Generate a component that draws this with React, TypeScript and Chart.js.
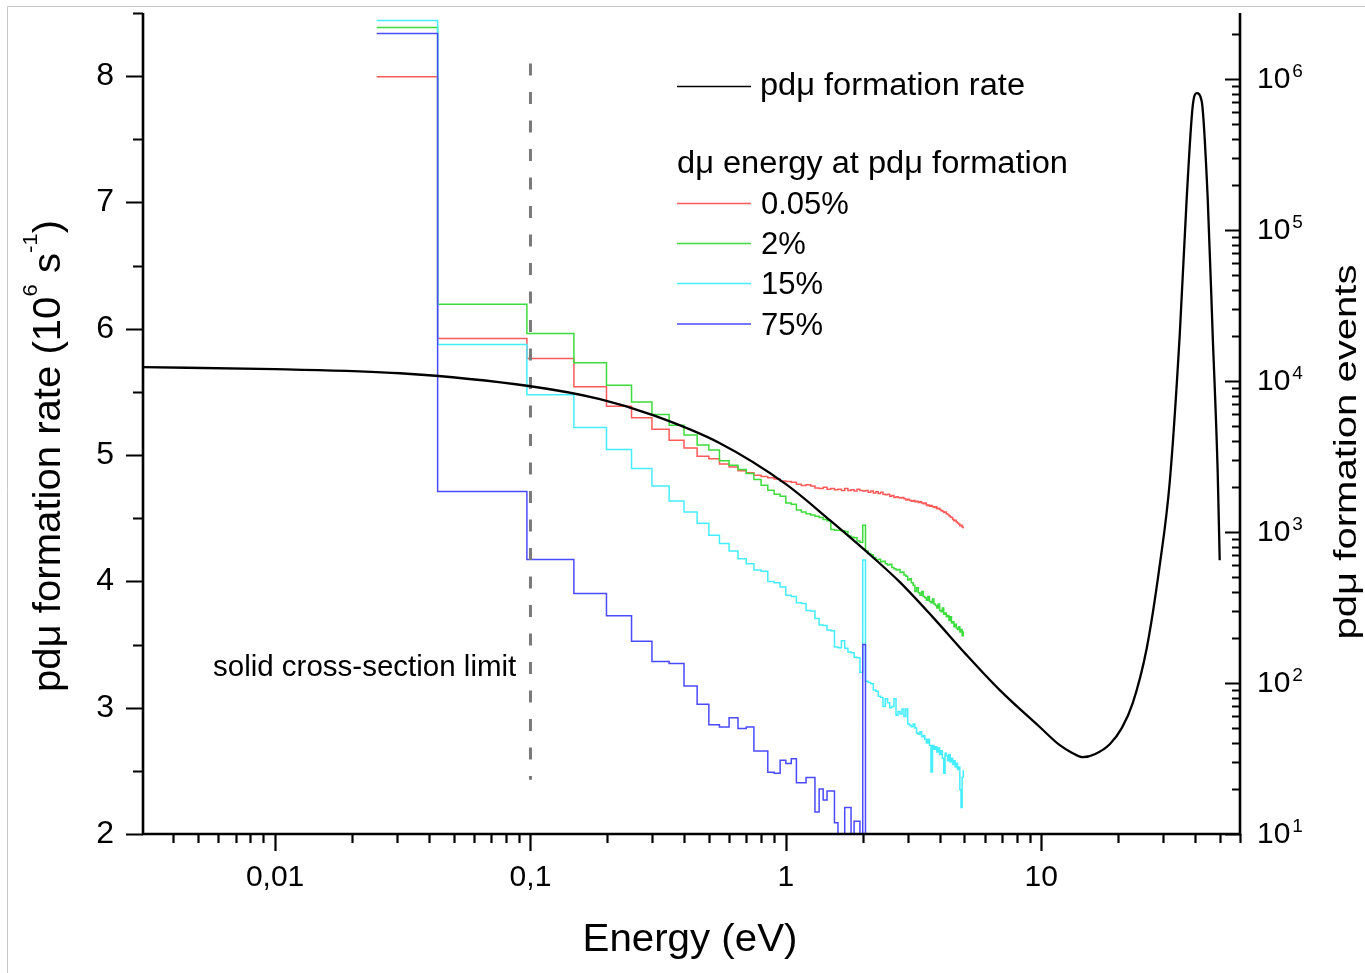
import React, { useEffect, useRef } from 'react';
import { Chart, registerables } from 'chart.js';

Chart.register(...registerables);

const FONT = '"Liberation Sans", Arial, Helvetica, sans-serif';

// Histogram bin centres (eV), 0.05 eV bins
const BIN_E = [
  0.025, 0.075, 0.125, 0.175, 0.225, 0.275, 0.325, 0.375, 0.425, 0.475,
  0.525, 0.575, 0.625, 0.675, 0.725, 0.775, 0.825, 0.875, 0.925, 0.975,
  1.025, 1.075, 1.125, 1.175, 1.225, 1.275, 1.325, 1.375, 1.425, 1.475,
  1.525, 1.575, 1.625, 1.675, 1.725, 1.775, 1.825, 1.875, 1.925, 1.975,
  2.025, 2.075, 2.125, 2.175, 2.225, 2.275, 2.325, 2.375, 2.425, 2.475,
  2.525, 2.575, 2.625, 2.675, 2.725, 2.775, 2.825, 2.875, 2.925, 2.975,
  3.025, 3.075, 3.125, 3.175, 3.225, 3.275, 3.325, 3.375, 3.425, 3.475,
  3.525, 3.575, 3.625, 3.675, 3.725, 3.775, 3.825, 3.875, 3.925, 3.975,
  4.025, 4.075, 4.125, 4.175, 4.225, 4.275, 4.325, 4.375, 4.425, 4.475,
  4.525, 4.575, 4.625, 4.675, 4.725, 4.775, 4.825, 4.875, 4.925, 4.975,
];

const RED_005 = [
  7.995, 5.923, 5.765, 5.54, 5.387, 5.295, 5.205, 5.118, 5.057, 4.99,
  4.97, 4.93, 4.906, 4.875, 4.86, 4.84, 4.83, 4.82, 4.81, 4.795,
  4.79, 4.785, 4.77, 4.76, 4.765, 4.755, 4.74, 4.735, 4.745, 4.73,
  4.735, 4.725, 4.73, 4.72, 4.735, 4.72, 4.725, 4.715, 4.73, 4.72,
  4.715, 4.72, 4.705, 4.715, 4.70, 4.71, 4.695, 4.705, 4.69, 4.685,
  4.69, 4.675, 4.68, 4.665, 4.67, 4.665, 4.66, 4.665, 4.655, 4.645,
  4.65, 4.64, 4.635, 4.64, 4.63, 4.635, 4.625, 4.63, 4.62, 4.615,
  4.62, 4.6, 4.605, 4.595, 4.6, 4.59, 4.585, 4.59, 4.575, 4.58,
  4.57, 4.56, 4.555, 4.545, 4.55, 4.535, 4.53, 4.52, 4.51, 4.505,
  4.49, 4.48, 4.485, 4.47, 4.46, 4.455, 4.44, 4.445, 4.43, 4.425,
];

const GREEN_2 = [
  8.386, 6.195, 5.963, 5.73, 5.553, 5.421, 5.321, 5.237, 5.158, 5.08,
  5.04, 4.955, 4.92, 4.886, 4.855, 4.807, 4.762, 4.722, 4.69, 4.675,
  4.62, 4.61, 4.565, 4.55, 4.535, 4.525, 4.515, 4.505, 4.49, 4.48,
  4.41, 4.405, 4.405, 4.40, 4.395, 4.36, 4.35, 4.345, 4.32, 4.31,
  4.445, 4.24, 4.22, 4.21, 4.19, 4.17, 4.175, 4.155, 4.16, 4.14,
  4.13, 4.135, 4.11, 4.10, 4.09, 4.095, 4.07, 4.075, 4.05, 4.04,
  4.01, 4.02, 3.99, 3.97, 3.92, 3.95, 3.91, 3.89, 3.92, 3.88,
  3.87, 3.85, 3.88, 3.84, 3.83, 3.86, 3.82, 3.81, 3.79, 3.82,
  3.77, 3.76, 3.79, 3.74, 3.75, 3.72, 3.73, 3.69, 3.72, 3.67,
  3.68, 3.64, 3.66, 3.63, 3.62, 3.64, 3.60, 3.62, 3.57, 3.60,
];

const CYAN_15 = [
  8.44, 5.876, 5.477, 5.218, 5.044, 4.893, 4.756, 4.637, 4.55, 4.46,
  4.366, 4.30, 4.24, 4.18, 4.14, 4.09, 4.08, 4.0, 3.99, 3.956,
  3.89, 3.88, 3.83, 3.825, 3.77, 3.765, 3.706, 3.655, 3.65, 3.615,
  3.61, 3.48, 3.475, 3.53, 3.47, 3.44, 3.435, 3.40, 3.395, 3.28,
  4.17, 3.21, 3.20, 3.19, 3.14, 3.13, 3.09, 3.08, 3.01, 3.07,
  3.04, 3.0, 3.01, 3.07, 2.94, 2.97, 2.95, 2.99, 2.93, 2.99,
  2.87, 2.86, 2.85, 2.87, 2.84, 2.80, 2.79, 2.81, 2.77, 2.78,
  2.75, 2.72, 2.75, 2.70, 2.49, 2.70, 2.67, 2.69, 2.65, 2.68,
  2.63, 2.66, 2.60, 2.48, 2.64, 2.62, 2.58, 2.63, 2.57, 2.60,
  2.55, 2.58, 2.53, 2.56, 2.51, 2.53, 2.35, 2.21, 2.45, 2.50,
];

const BLUE_75 = [
  8.338, 4.712, 4.173, 3.905, 3.727, 3.527, 3.366, 3.35, 3.172, 3.028,
  2.864, 2.848, 2.92, 2.835, 2.848, 2.658, 2.658, 2.489, 2.48, 2.584,
  2.558, 2.595, 2.405, 2.405, 2.447, 2.447, 2.175, 2.357, 2.27, 2.34,
  2.34, 2.09, 1.9, 1.9, 2.21, 2.21, 1.9, 2.1, 2.1, 1.9,
  3.5, 1.9,
];

// pdmu formation rate curve
const RATE_E = [
  0.00304, 0.01, 0.03085, 0.1, 0.1871, 0.3016, 0.5517, 1.0, 1.486, 2.07,
  2.795, 3.761, 5.064, 6.88, 9.866, 11.82, 13.17, 14.54, 16.2, 18.54,
  20.66, 22.81, 25.88, 29.1, 31.84, 34.84, 37.11, 39.17, 40.61, 42.48,
  44.84, 46.91, 49.08, 49.96,
];
const RATE_V = [
  5.696, 5.68, 5.648, 5.545, 5.443, 5.316, 5.094, 4.77, 4.485, 4.235,
  3.994, 3.717, 3.424, 3.139, 2.847, 2.703, 2.644, 2.608, 2.632, 2.711,
  2.838, 3.036, 3.471, 4.128, 4.785, 5.949, 7.034, 7.762, 7.865, 7.802,
  7.034, 5.949, 4.857, 4.168,
];

// solid cross-section limit marker
const LIMIT_E = [0.1, 0.1];
const LIMIT_V = [8.1, 2.43];

const LEFT_TICKS = [2, 2.5, 3, 3.5, 4, 4.5, 5, 5.5, 6, 6.5, 7, 7.5, 8, 8.5];
const X_DECADES = [-3, -2, -1, 0, 1];
const X_MAJOR_LABELS = ['0,01', '0,1', '1', '10'];
const RIGHT_DECADES = [1, 2, 3, 4, 5, 6];

const SERIES_NAMES = ['0.05%', '2%', '15%', '75%'];
const SERIES_COLORS = ['#ff5a5a', '#3ddc3d', '#44eeff', '#4a4aff'];

const pts = (xs: number[], ys: number[]) => ys.map((y, i) => ({ x: xs[i], y }));

type Seg = { text: string; size: number; raise?: number };

function segsWidth(ctx: CanvasRenderingContext2D, segs: Seg[]) {
  let w = 0;
  for (const s of segs) {
    ctx.font = `${s.size}px ${FONT}`;
    w += ctx.measureText(s.text).width;
  }
  return w;
}

function drawSegs(
  ctx: CanvasRenderingContext2D,
  segs: Seg[],
  ox: number,
  oy: number,
  opts: { rotate?: boolean; center?: boolean; fit?: number }
) {
  ctx.save();
  ctx.translate(ox, oy);
  if (opts.rotate) ctx.rotate(-Math.PI / 2);
  const w = segsWidth(ctx, segs);
  const sx = opts.fit ? opts.fit / w : 1;
  ctx.scale(sx, 1);
  let x = opts.center ? -w / 2 : 0;
  ctx.textAlign = 'left';
  ctx.textBaseline = 'alphabetic';
  ctx.fillStyle = '#000';
  for (const s of segs) {
    ctx.font = `${s.size}px ${FONT}`;
    ctx.fillText(s.text, x, -(s.raise || 0));
    x += ctx.measureText(s.text).width;
  }
  ctx.restore();
}

const zeroPad = (s: any) => {
  s.paddingTop = 0;
  s.paddingBottom = 0;
  s.paddingLeft = 0;
  s.paddingRight = 0;
};

const decorPlugin = {
  id: 'decor',
  afterDraw(chart: any) {
    const { ctx, chartArea: a, scales } = chart;
    const xs = scales.x;
    const yl = scales.y;
    const yr = scales.yR;
    ctx.save();

    // image frame
    ctx.strokeStyle = '#c8c8c8';
    ctx.lineWidth = 1;
    ctx.beginPath();
    ctx.moveTo(7.5, 973);
    ctx.lineTo(7.5, 6.5);
    ctx.lineTo(1365, 6.5);
    ctx.stroke();

    // axis lines
    ctx.strokeStyle = '#000';
    ctx.lineWidth = 2.6;
    ctx.beginPath();
    ctx.moveTo(a.left, a.top);
    ctx.lineTo(a.left, a.bottom + 1.3);
    ctx.moveTo(a.left - 1.3, a.bottom);
    ctx.lineTo(a.right + 1.3, a.bottom);
    ctx.moveTo(a.right, a.bottom + 1.3);
    ctx.lineTo(a.right, a.top);
    ctx.stroke();

    ctx.lineWidth = 2.2;
    ctx.beginPath();
    for (const v of LEFT_TICKS) {
      const y = Math.round(yl.getPixelForValue(v)) + 0.5;
      const len = Number.isInteger(v) ? 17 : 10;
      ctx.moveTo(a.left, y);
      ctx.lineTo(a.left - len, y);
    }
    for (const d of X_DECADES) {
      for (let k = 1; k <= 9; k++) {
        const v = k * Math.pow(10, d);
        if (v < xs.min * 0.999 || v > xs.max * 1.001) continue;
        const x = Math.round(xs.getPixelForValue(v)) + 0.5;
        const len = k === 1 ? 17 : 9;
        ctx.moveTo(x, a.bottom);
        ctx.lineTo(x, a.bottom + len);
      }
    }
    for (const d of RIGHT_DECADES) {
      for (let k = 1; k <= 9; k++) {
        const v = k * Math.pow(10, d);
        if (v > yr.max) continue;
        const y = Math.round(yr.getPixelForValue(v)) + 0.5;
        const len = k === 1 ? 15 : 8;
        ctx.moveTo(a.right, y);
        ctx.lineTo(a.right - len, y);
      }
    }
    ctx.stroke();

    // right tick labels 10^n
    ctx.fillStyle = '#000';
    for (const d of RIGHT_DECADES) {
      const y = yr.getPixelForValue(Math.pow(10, d));
      ctx.font = `30px ${FONT}`;
      ctx.textAlign = 'left';
      ctx.textBaseline = 'middle';
      ctx.fillText('10', 1257, y + 1);
      const w = ctx.measureText('10').width;
      ctx.font = `19px ${FONT}`;
      ctx.textBaseline = 'alphabetic';
      ctx.fillText(String(d), 1257 + w + 2, y - 2);
    }

    // axis titles
    drawSegs(
      ctx,
      [
        { text: 'pdμ formation rate (10', size: 38 },
        { text: '6', size: 21, raise: 23 },
        { text: ' s', size: 38 },
        { text: '-1', size: 21, raise: 23 },
        { text: ')', size: 38 },
      ],
      60,
      456,
      { rotate: true, center: true, fit: 472 }
    );
    drawSegs(ctx, [{ text: 'pdμ formation events', size: 32 }], 1356, 452, {
      rotate: true,
      center: true,
      fit: 375,
    });
    drawSegs(ctx, [{ text: 'Energy (eV)', size: 38 }], 690, 951, { center: true, fit: 215 });

    // legend
    ctx.lineWidth = 1.6;
    ctx.strokeStyle = '#000';
    ctx.beginPath();
    ctx.moveTo(677, 86.5);
    ctx.lineTo(751, 86.5);
    ctx.stroke();
    drawSegs(ctx, [{ text: 'pdμ formation rate', size: 31 }], 760, 95, { fit: 265 });
    drawSegs(ctx, [{ text: 'dμ energy at pdμ formation', size: 31 }], 677, 173, { fit: 391 });
    const legY = [203.5, 243.5, 283.5, 324];
    SERIES_NAMES.forEach((name, i) => {
      ctx.strokeStyle = SERIES_COLORS[i];
      ctx.lineWidth = 1.6;
      ctx.beginPath();
      ctx.moveTo(677, legY[i]);
      ctx.lineTo(751, legY[i]);
      ctx.stroke();
      drawSegs(ctx, [{ text: name, size: 31 }], 761, legY[i] + 10.5, {});
    });

    // annotation
    drawSegs(ctx, [{ text: 'solid cross-section limit', size: 29.5 }], 213, 676, {});

    ctx.restore();
  },
};

export default function App() {
  const ref = useRef<HTMLCanvasElement | null>(null);

  useEffect(() => {
    if (!ref.current) return;
    const stepDs = (label: string, vals: number[], color: string, order: number) => ({
      label,
      data: pts(BIN_E, vals),
      borderColor: color,
      backgroundColor: color,
      borderWidth: 1.5,
      stepped: 'middle' as const,
      pointRadius: 0,
      fill: false,
      order,
    });
    const chart = new Chart(ref.current, {
      type: 'line',
      data: {
        datasets: [
          {
            label: 'pdμ formation rate',
            data: pts(RATE_E, RATE_V),
            borderColor: '#000',
            borderWidth: 2.3,
            pointRadius: 0,
            cubicInterpolationMode: 'monotone',
            fill: false,
            order: 1,
          },
          {
            label: 'solid cross-section limit',
            data: pts(LIMIT_E, LIMIT_V),
            borderColor: '#7a7a7a',
            borderWidth: 3,
            borderDash: [12, 16.5],
            pointRadius: 0,
            fill: false,
            order: 2,
          },
          stepDs(SERIES_NAMES[3], BLUE_75, SERIES_COLORS[3], 3),
          stepDs(SERIES_NAMES[2], CYAN_15, SERIES_COLORS[2], 4),
          stepDs(SERIES_NAMES[1], GREEN_2, SERIES_COLORS[1], 5),
          stepDs(SERIES_NAMES[0], RED_005, SERIES_COLORS[0], 6),
        ] as any,
      },
      options: {
        animation: false,
        responsive: false,
        maintainAspectRatio: false,
        devicePixelRatio: 1,
        layout: { padding: { left: 0, right: 0, top: 13, bottom: 0 } },
        plugins: {
          legend: { display: false },
          tooltip: { enabled: false },
          title: { display: false },
        },
        scales: {
          x: {
            type: 'logarithmic',
            position: 'bottom',
            min: 0.00304,
            max: 60,
            grid: { display: false, drawTicks: false },
            border: { display: false },
            ticks: {
              autoSkip: false,
              maxRotation: 0,
              minRotation: 0,
              padding: 26,
              color: '#000',
              font: { family: FONT, size: 30 },
              callback: (v: any) => {
                const val = Number(v);
                const l = Math.log10(val);
                const r = Math.round(l);
                if (Math.abs(l - r) < 1e-6 && r >= -2 && r <= 1) return X_MAJOR_LABELS[r + 2];
                return '';
              },
            },
            afterFit: (s: any) => {
              s.height = 139;
              zeroPad(s);
            },
          },
          y: {
            type: 'linear',
            position: 'left',
            min: 2,
            max: 8.5,
            grid: { display: false, drawTicks: false },
            border: { display: false },
            ticks: {
              stepSize: 1,
              includeBounds: false,
              padding: 29,
              color: '#000',
              font: { family: FONT, size: 32 },
              callback: (v: any) => (Number.isInteger(Number(v)) ? String(v) : ''),
            },
            afterFit: (s: any) => {
              s.width = 143;
              zeroPad(s);
            },
          },
          yR: {
            type: 'logarithmic',
            position: 'right',
            min: 10,
            max: 2.735e6,
            grid: { display: false, drawTicks: false },
            border: { display: false },
            ticks: { display: false },
            afterFit: (s: any) => {
              s.width = 125;
              zeroPad(s);
            },
          },
        },
      } as any,
      plugins: [decorPlugin],
    });
    return () => chart.destroy();
  }, []);

  return (
    <div style={{ position: 'absolute', left: 0, top: 0, width: 1365, height: 973, background: '#fff' }}>
      <canvas ref={ref} width={1365} height={973} style={{ display: 'block' }} />
    </div>
  );
}
